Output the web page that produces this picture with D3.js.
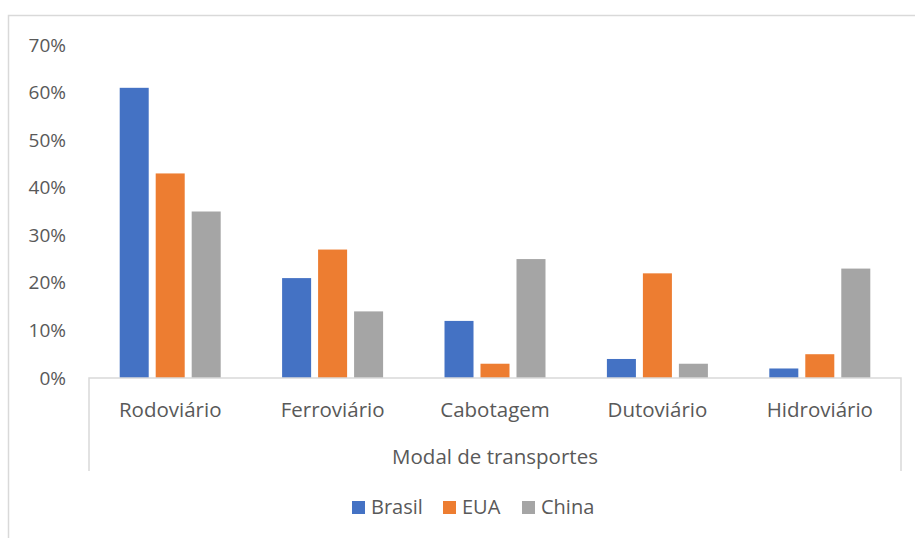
<!DOCTYPE html>
<html><head><meta charset="utf-8">
<script src="https://cdn.jsdelivr.net/npm/d3@7"></script>
<style>body{margin:0;background:#fff}svg{display:block}text{font-family:"Open Sans",sans-serif;fill:#595959}</style>
</head><body>
<svg id="c" width="915" height="538"></svg>
<script>
const categories = ["Rodoviário","Ferroviário","Cabotagem","Dutoviário","Hidroviário"];
const seriesNames = ["Brasil","EUA","China"];
const brasil = [61,21,12,4,2];
const eua = [43,27,3,22,5];
const china = [35,14,25,3,23];
const yTicks = [0,10,20,30,40,50,60,70];
const colors = ["#4472C4","#ED7D31","#A5A5A5"];
const seriesValues = [brasil, eua, china];

const svg = d3.select("#c");
// outer border
svg.append("path").attr("d","M8.5,538 V15.5 H915").attr("fill","none").attr("stroke","#d9d9d9").attr("stroke-width",1.5);

const left = 89, right = 901, y0 = 378;
const y = d3.scaleLinear().domain([0,70]).range([y0,45]);
const x = d3.scaleBand().domain(categories).range([left,right]).paddingInner(0).paddingOuter(0);
const xs = d3.scaleBand().domain(seriesNames).range([0,x.bandwidth()]).paddingInner(0.194).paddingOuter(0.853);

const data = [];
categories.forEach((c,i)=>seriesNames.forEach((s,j)=>data.push({c,s,v:seriesValues[j][i],j})));
svg.append("g").selectAll("rect").data(data).join("rect")
  .attr("x",d=>x(d.c)+xs(d.s)).attr("width",xs.bandwidth())
  .attr("y",d=>y(d.v)).attr("height",d=>y0-y(d.v))
  .attr("fill",d=>colors[d.j]);

// y axis labels
const ya = svg.append("g").attr("transform",`translate(66,0)`).call(d3.axisLeft(y).tickValues(yTicks).tickFormat(d=>d+"%").tickSize(0).tickPadding(0));
ya.select(".domain").remove();
ya.selectAll("text").style("font-size","19px").attr("fill","#595959").style("font-family","'Open Sans',sans-serif");

// x axis line & category box
svg.append("path").attr("d",`M${left},471 V${y0} H${right} V471`).attr("fill","none").attr("stroke","#d9d9d9").attr("stroke-width",1.5);
const xa = svg.append("g").attr("transform",`translate(0,${y0})`).call(d3.axisBottom(x).tickSize(0).tickPadding(0));
xa.select(".domain").remove();
xa.selectAll("text").attr("dy",null).attr("y",39).style("font-size","20.5px").attr("fill","#595959").style("font-family","'Open Sans',sans-serif");

svg.append("text").attr("x",(left+right)/2).attr("y",464).attr("text-anchor","middle").style("font-size","20.5px").text("Modal de transportes");

// legend
const leg = [{n:"Brasil",x:352},{n:"EUA",x:443},{n:"China",x:522}];
leg.forEach((l,i)=>{
  svg.append("rect").attr("x",l.x).attr("y",501).attr("width",13).attr("height",13).attr("fill",colors[i]);
  svg.append("text").attr("x",l.x+19).attr("y",514).style("font-size","20px").text(l.n);
});
</script>
</body></html>
